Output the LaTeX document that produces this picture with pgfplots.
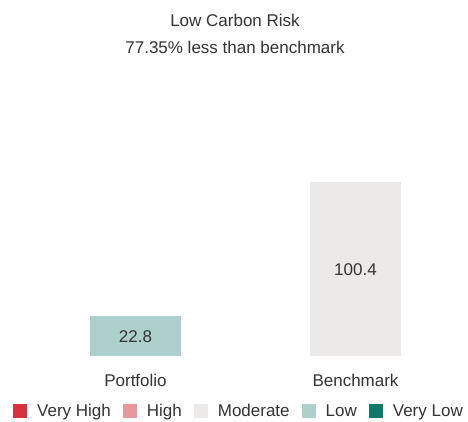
\documentclass[border=0pt]{standalone}
\usepackage{fontspec}
\setmainfont{Liberation Sans}
\usepackage{pgfplots}
\pgfplotsset{compat=1.18}
\definecolor{txt}{HTML}{333333}
\definecolor{vhigh}{HTML}{D7313E}
\definecolor{high}{HTML}{E8989C}
\definecolor{moder}{HTML}{ECEAE8}
\definecolor{low}{HTML}{AED0CC}
\definecolor{vlow}{HTML}{0B7A66}
\begin{document}
\begin{tikzpicture}
\begin{axis}[
  width=468pt, height=421pt, scale only axis,
  xmin=0, xmax=468, ymin=-37.5, ymax=205.4,
  hide axis, clip=false,
  ybar, bar width=91, bar shift=0pt,
  font=\fontsize{17}{20}\selectfont\color{txt},
  legend columns=5,
  legend style={draw=none, fill=none, at={(axis cs:238,-31.7)}, anchor=center,
    font=\fontsize{17}{20}\selectfont\color{txt},
    nodes={inner sep=0pt},
    /tikz/every odd column/.append style={column sep=10pt},
    /tikz/every even column/.append style={column sep=12pt},
    inner sep=0pt},
  legend image code/.code={\fill[#1, draw=none] (0pt,-7pt) rectangle (14pt,7pt);},
]
\path (rel axis cs:0,0) rectangle (rel axis cs:1,1);
\addplot[fill=low, draw=none, forget plot] coordinates {(135.5,22.8)};
\addplot[fill=moder, draw=none, forget plot] coordinates {(355.5,100.4)};
\addlegendimage{fill=vhigh, draw=none}\addlegendentry{Very High}
\addlegendimage{fill=high, draw=none}\addlegendentry{High}
\addlegendimage{fill=moder, draw=none}\addlegendentry{Moderate}
\addlegendimage{fill=low, draw=none}\addlegendentry{Low}
\addlegendimage{fill=vlow, draw=none}\addlegendentry{Very Low}
\node at (axis cs:235,193.9) {Low Carbon Risk};
\node at (axis cs:235,178.3) {77.35\% less than benchmark};
\node at (axis cs:135.5,11.4) {22.8};
\node at (axis cs:355.5,49.6) {100.4};
\node at (axis cs:135.5,-13.85) {Portfolio};
\node at (axis cs:355.5,-13.85) {Benchmark};
\end{axis}
\end{tikzpicture}
\end{document}
